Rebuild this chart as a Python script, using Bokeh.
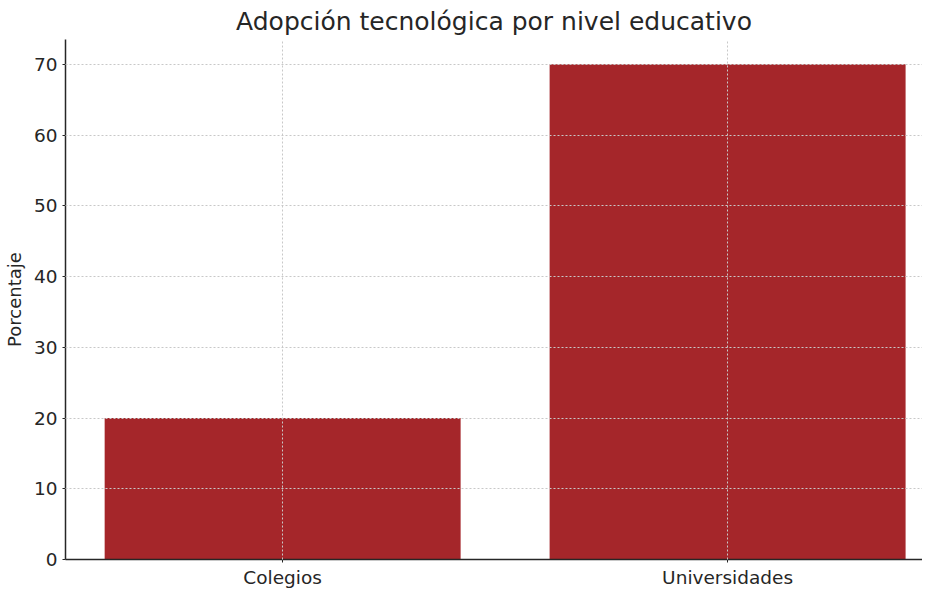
from bokeh.plotting import figure
from bokeh.models import Range1d, FixedTicker
from bokeh.embed import file_html
from bokeh.resources import INLINE

categories = ["Colegios", "Universidades"]
values = [20, 70]
y_ticks = [0, 10, 20, 30, 40, 50, 60, 70]

x_pos = list(range(len(categories)))

FONT = "DejaVu Sans"
TXT = "#262626"

p = figure(frame_width=857, frame_height=520,
           x_range=Range1d(-0.488, 1.438), y_range=Range1d(0, 73.5),
           output_backend="svg", toolbar_location=None,
           title="Adopción tecnológica por nivel educativo",
           min_border_left=57, min_border_right=0, min_border_top=35, min_border_bottom=0)

p.vbar(x=x_pos, top=values, width=0.8, fill_color="#A5262A", line_color=None)

p.title.text_font = FONT
p.title.text_font_size = "25px"
p.title.text_font_style = "normal"
p.title.text_color = TXT
p.title.align = "center"
p.title.standoff = 8

p.outline_line_color = None
p.background_fill_color = "white"
p.border_fill_color = "white"

for ax in (p.xaxis, p.yaxis):
    ax.axis_line_color = TXT
    ax.axis_line_width = 1.5
    ax.major_tick_line_color = TXT
    ax.major_tick_out = 3
    ax.major_tick_in = 0
    ax.minor_tick_line_color = None
    ax.major_label_text_font = FONT
    ax.major_label_text_font_size = "18.5px"
    ax.major_label_text_color = TXT

p.xaxis.ticker = FixedTicker(ticks=x_pos)
p.xaxis.major_label_overrides = {i: c for i, c in zip(x_pos, categories)}
p.xaxis.major_label_standoff = 4
p.xaxis.axis_label_standoff = 0

p.yaxis.ticker = FixedTicker(ticks=y_ticks)
p.yaxis.major_label_standoff = 5
p.yaxis.axis_label = "Porcentaje"
p.yaxis.axis_label_text_font = FONT
p.yaxis.axis_label_text_font_size = "18px"
p.yaxis.axis_label_text_font_style = "normal"
p.yaxis.axis_label_text_color = TXT
p.yaxis.axis_label_standoff = 6

for g in (p.xgrid, p.ygrid):
    g.grid_line_color = "#c8c8c8"
    g.grid_line_dash = "2 2"
    g.grid_line_width = 1
    g.level = "overlay"
p.xgrid.ticker = FixedTicker(ticks=x_pos)
p.ygrid.ticker = FixedTicker(ticks=y_ticks)

open("out.html", "w").write(file_html(p, INLINE))
